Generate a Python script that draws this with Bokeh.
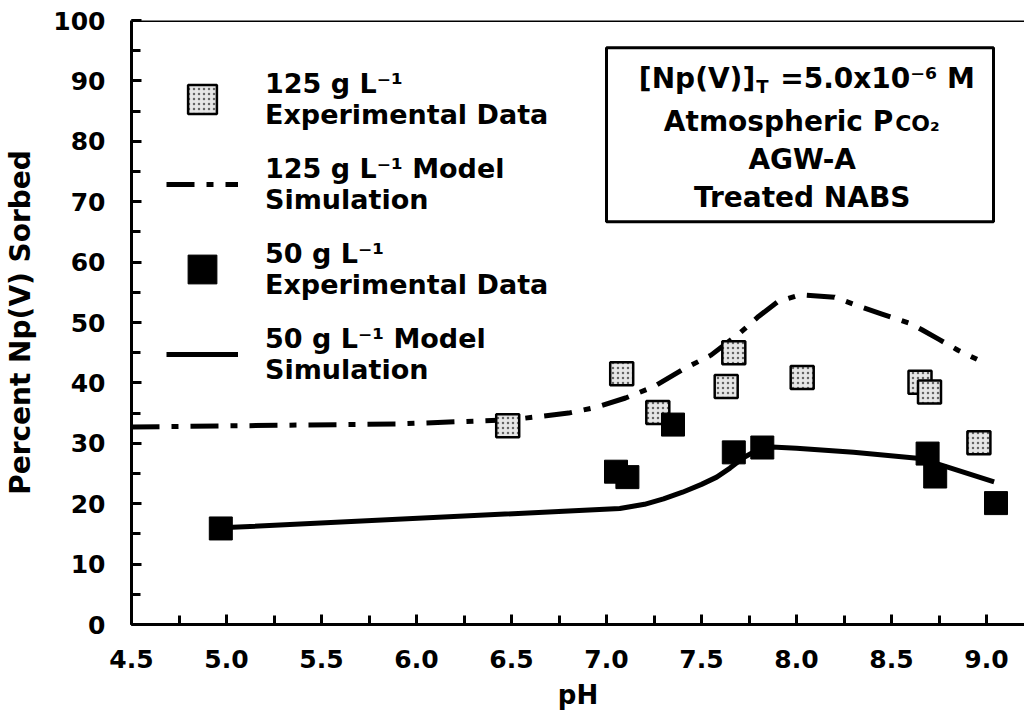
from bokeh.plotting import figure
from bokeh.models import (Legend, LegendItem, Label, BoxAnnotation, Span,
                          SingleIntervalTicker, PrintfTickFormatter, Range1d)
from bokeh.embed import file_html
from bokeh.resources import INLINE

# ---------------- data ----------------
ph_125_exp = [6.48, 7.08, 7.27, 7.63, 7.67, 8.03, 8.65, 8.70, 8.96]
sorb_125_exp = [32.9, 41.5, 35.1, 39.4, 45.0, 40.9, 40.1, 38.5, 30.1]

ph_50_exp = [4.97, 7.05, 7.11, 7.35, 7.67, 7.82, 8.69, 8.73, 9.05]
sorb_50_exp = [15.9, 25.3, 24.4, 33.1, 28.5, 29.3, 28.3, 24.5, 20.1]

ph_125_model = [4.5, 5.9, 6.5, 6.8, 6.95, 7.1, 7.25, 7.4, 7.55, 7.7, 7.8, 7.9,
                8.02, 8.2, 8.32, 8.45, 8.6, 8.66, 8.75, 8.85, 8.95]
sorb_125_model = [32.7, 33.2, 33.9, 35.0, 36.0, 37.5, 39.4, 42.2, 44.6, 48.2, 51.0, 53.4,
                  54.6, 54.2, 52.8, 51.4, 49.8, 48.8, 47.2, 45.4, 43.9]

ph_50_model = [4.97, 7.07, 7.2, 7.3, 7.4, 7.5, 7.58, 7.65, 7.72, 7.8, 7.87, 8.0,
               8.3, 8.65, 8.8, 9.04]
sorb_50_model = [16.0, 19.2, 19.9, 20.8, 21.9, 23.2, 24.4, 25.9, 27.6, 29.0, 29.4, 29.2,
                 28.5, 27.5, 26.0, 23.6]

legend_labels = ["125 g L\u207b\u00b9\nExperimental Data",
                 "125 g L\u207b\u00b9 Model\nSimulation",
                 "50 g L\u207b\u00b9\nExperimental Data",
                 "50 g L\u207b\u00b9 Model\nSimulation"]

box_line1_a = "[Np(V)]"
box_line1_sub = "T"
box_line1_b = "=5.0x10\u207b\u2076 M"
box_line2_a = "Atmospheric P"
box_line2_b = "CO\u2082"
box_lines = ["AGW-A", "Treated NABS"]

x_label = "pH"
y_label = "Percent Np(V) Sorbed"

FONT = "DejaVu Sans"

# ---------------- figure ----------------
p = figure(width=1024, height=722, x_range=Range1d(4.5, 9.2), y_range=Range1d(0, 100),
           output_backend="svg", toolbar_location=None, title=None,
           min_border_left=131, min_border_right=0, min_border_top=20, min_border_bottom=98)
p.xgrid.visible = False
p.ygrid.visible = False
p.outline_line_color = None
p.background_fill_color = "white"
p.border_fill_color = "white"

# model lines
r_m125 = p.line(ph_125_model, sorb_125_model, line_color="black", line_width=5,
                line_dash="28 12 7 12", line_join="round")
r_m50 = p.line(ph_50_model, sorb_50_model, line_color="black", line_width=5,
               line_join="round")

# experimental points
r_e125 = p.scatter(ph_125_exp, sorb_125_exp, marker="square", size=23,
                   fill_color="#e6e6e6", line_color="black", line_width=2.5,
                   hatch_pattern="dot", hatch_color="#444444", hatch_scale=5,
                   hatch_weight=1.2, hatch_alpha=0.8)
r_e50 = p.scatter(ph_50_exp, sorb_50_exp, marker="square", size=23,
                  fill_color="black", line_color="black", line_width=1)

# top frame line
p.add_layout(Span(location=100, dimension="width", line_color="black", line_width=3))

# axes
for ax in (p.xaxis[0], p.yaxis[0]):
    ax.axis_line_width = 3
    ax.axis_line_color = "black"
    ax.major_tick_line_width = 3
    ax.minor_tick_line_width = 3
    ax.major_tick_in = 10
    ax.major_tick_out = 0
    ax.minor_tick_in = 9
    ax.minor_tick_out = 0
    ax.major_label_text_font = FONT
    ax.major_label_text_font_style = "bold"
    ax.major_label_text_font_size = "25px"
    ax.major_label_text_color = "black"
    ax.axis_label_text_font = FONT
    ax.axis_label_text_font_style = "bold"
    ax.axis_label_text_color = "black"

p.xaxis.ticker = SingleIntervalTicker(interval=0.5, num_minor_ticks=2)
p.xaxis.formatter = PrintfTickFormatter(format="%.1f")
p.xaxis.major_label_standoff = 25
p.xaxis.axis_label = x_label
p.xaxis.axis_label_standoff = 9
p.xaxis.axis_label_text_font_size = "26px"

p.yaxis.ticker = SingleIntervalTicker(interval=10, num_minor_ticks=2)
p.yaxis.major_label_standoff = 26
p.yaxis.axis_label = y_label
p.yaxis.axis_label_standoff = 13
p.yaxis.axis_label_text_font_size = "28px"

# legend
legend = Legend(items=[LegendItem(label=legend_labels[0], renderers=[r_e125]),
                       LegendItem(label=legend_labels[1], renderers=[r_m125]),
                       LegendItem(label=legend_labels[2], renderers=[r_e50]),
                       LegendItem(label=legend_labels[3], renderers=[r_m50])],
                location=(35, 232), padding=0, margin=0, border_line_color=None,
                background_fill_alpha=0, glyph_width=72, glyph_height=76,
                label_standoff=27, spacing=9, label_text_font=FONT,
                label_text_font_size="27px", label_text_font_style="bold",
                label_text_line_height=1.4, label_text_color="black")
p.add_layout(legend)

# annotation box
p.add_layout(BoxAnnotation(left=7.0, right=9.037, top=95.5, bottom=66.7,
                           fill_color=None, fill_alpha=0, line_color="black",
                           line_alpha=1.0, line_width=3))
BX = 8.03
box_y = [90.4, 83.3, 77.0, 70.7]
common = dict(text_font=FONT, text_font_style="bold", text_color="black",
              text_baseline="middle")
# line 1: [Np(V)]_T =5.0x10^-6 M
p.add_layout(Label(x=BX, y=box_y[0], x_offset=-47, text=box_line1_a, text_align="right",
                   text_font_size="28px", **common))
p.add_layout(Label(x=BX, y=box_y[0], x_offset=-46, y_offset=-8, text=box_line1_sub,
                   text_align="left", text_font_size="18px", **common))
p.add_layout(Label(x=BX, y=box_y[0], x_offset=-22, text=box_line1_b, text_align="left",
                   text_font_size="28px", **common))
# line 2: Atmospheric P + CO2 in small capitals
p.add_layout(Label(x=BX, y=box_y[1], x_offset=91, text=box_line2_a,
                   text_align="right", text_font_size="28px", **common))
p.add_layout(Label(x=BX, y=box_y[1], x_offset=93, y_offset=-2, text=box_line2_b,
                   text_align="left", text_font_size="22px", **common))
for t, yy in zip(box_lines, box_y[2:]):
    p.add_layout(Label(x=BX, y=yy, text=t, text_align="center",
                       text_font_size="28px", **common))

open("out.html", "w").write(file_html(p, INLINE))
